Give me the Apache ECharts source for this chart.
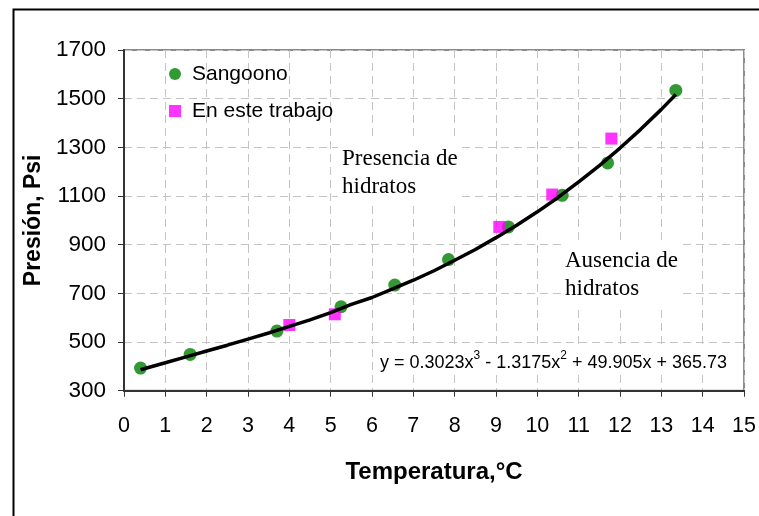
<!DOCTYPE html>
<html>
<head>
<meta charset="utf-8">
<script src="https://cdn.jsdelivr.net/npm/echarts@6/dist/echarts.min.js"></script>
<style>html,body{margin:0;padding:0;background:#fff}#c{width:759px;height:516px}</style>
</head>
<body>
<div id="c"></div>
<script>
// Sangoono data (Temperature °C, Pressure psi)
var sangoonoT = [0.4, 1.6, 3.7, 5.25, 6.55, 7.85, 9.3, 10.6, 11.7, 13.35];
var sangoonoP = [393, 449, 545, 645, 734, 839, 973, 1103, 1236, 1534];
// En este trabajo data
var trabajoT = [4.0, 5.1, 9.08, 10.36, 11.79];
var trabajoP = [570, 614, 973, 1106, 1336];
// Trend line
var trendT = [0.4, 1, 1.5, 2, 2.5, 3, 3.5, 4, 4.5, 5, 5.5, 6, 6.5, 7, 7.5, 8, 8.5, 9, 9.5, 10, 10.5, 11, 11.5, 12, 12.5, 13, 13.35];
var trendP = [386, 415, 439, 463, 487, 512, 537, 564, 591, 621, 655, 683, 718, 754, 793, 836, 880, 929, 980, 1035, 1094, 1158, 1225, 1297, 1374, 1456, 1517];
// Axis ticks
var xMin = 0, xMax = 15, xStep = 1;
var yMin = 300, yMax = 1700, yStep = 200;
// Texts
var xTitle = 'Temperatura,°C';
var yTitle = 'Presión, Psi';
var legendNames = ['Sangoono', 'En este trabajo'];
var note1 = ['Presencia de', 'hidratos'];
var note2 = ['Ausencia de', 'hidratos'];

function pairs(a, b) { return a.map(function (v, i) { return [v, b[i]]; }); }

var chart = echarts.init(document.getElementById('c'), null, { renderer: 'canvas' });
var sans = 'Liberation Sans, Arial, sans-serif';
var serif = 'Liberation Serif, Times New Roman, serif';

chart.setOption({
  animation: false,
  backgroundColor: '#fff',
  grid: { left: 124, top: 50, right: 12.5, bottom: 125.3, show: true, borderColor: '#8a8a8a', borderWidth: 2, backgroundColor: 'transparent' },
  legend: {
    orient: 'vertical', left: 164, top: 57, itemWidth: 12, itemHeight: 12, itemGap: 13,
    data: [{ name: legendNames[0], icon: 'circle' }, { name: legendNames[1], icon: 'rect' }],
    textStyle: { fontFamily: sans, fontSize: 21, color: '#000', lineHeight: 24, padding: [0, 0, 0, 6] }
  },
  xAxis: {
    type: 'value', min: xMin, max: xMax, interval: xStep,
    name: xTitle, nameLocation: 'middle', nameGap: 70,
    nameTextStyle: { fontFamily: sans, fontSize: 24, fontWeight: 'bold', color: '#000' },
    axisLine: { lineStyle: { color: '#333', width: 2 } },
    axisTick: { show: true, inside: false, length: 6, lineStyle: { color: '#333', width: 1 } },
    axisLabel: { fontFamily: sans, fontSize: 21.5, color: '#000', margin: 24 },
    splitLine: { show: true, lineStyle: { color: '#c4c4c4', type: [8, 5], width: 1 } }
  },
  yAxis: {
    type: 'value', min: yMin, max: yMax, interval: yStep,
    name: yTitle, nameLocation: 'middle', nameGap: 78, nameRotate: 90,
    nameTextStyle: { fontFamily: sans, fontSize: 23, fontWeight: 'bold', color: '#000' },
    axisLine: { show: true, lineStyle: { color: '#333', width: 2 } },
    axisTick: { show: true, inside: false, length: 6, lineStyle: { color: '#333', width: 1 } },
    axisLabel: { fontFamily: sans, fontSize: 22.5, color: '#000', margin: 18, formatter: function (v) { return String(v); } },
    splitLine: { show: true, lineStyle: { color: '#c4c4c4', type: [8, 5], width: 1 } }
  },
  series: [
    { name: legendNames[0], type: 'scatter', symbol: 'circle', symbolSize: 13, itemStyle: { color: '#008000' }, data: pairs(sangoonoT, sangoonoP), z: 2 },
    { name: legendNames[1], type: 'scatter', symbol: 'rect', symbolSize: 12, itemStyle: { color: '#ff00ff' }, data: pairs(trabajoT, trabajoP), z: 3 },
    { name: 'trend', type: 'line', showSymbol: false, symbol: 'none', lineStyle: { color: '#000', width: 3.5 }, data: pairs(trendT, trendP), z: 4, silent: true }
  ],
  graphic: [
    { type: 'rect', left: 11, top: 7, shape: { width: 800, height: 600 }, style: { fill: 'none', stroke: '#000', lineWidth: 2 }, z: 100 },
    { type: 'text', left: 338, top: 141, z: 1, style: { text: note1.join('\n'), font: '23px ' + serif, fill: '#000', lineHeight: 28, backgroundColor: '#fff', padding: [4, 4, 4, 4] } },
    { type: 'text', left: 561, top: 243, z: 1, style: { text: note2.join('\n'), font: '23px ' + serif, fill: '#000', lineHeight: 28, backgroundColor: '#fff', padding: [4, 4, 4, 4] } },
    { type: 'text', left: 376, top: 347, z: 1, style: {
        text: '{n|y = 0.3023x}{s|3}{n| - 1.3175x}{s|2}{n| + 49.905x + 365.73}',
        backgroundColor: '#fff', padding: [3, 4, 3, 4],
        rich: {
          n: { fontFamily: sans, fontSize: 18, fill: '#000', verticalAlign: 'bottom', lineHeight: 22 },
          s: { fontFamily: sans, fontSize: 12, fill: '#000', verticalAlign: 'top', lineHeight: 22, padding: [0, 0, 8, 0] }
        }
    } }
  ]
});
</script>
</body>
</html>
